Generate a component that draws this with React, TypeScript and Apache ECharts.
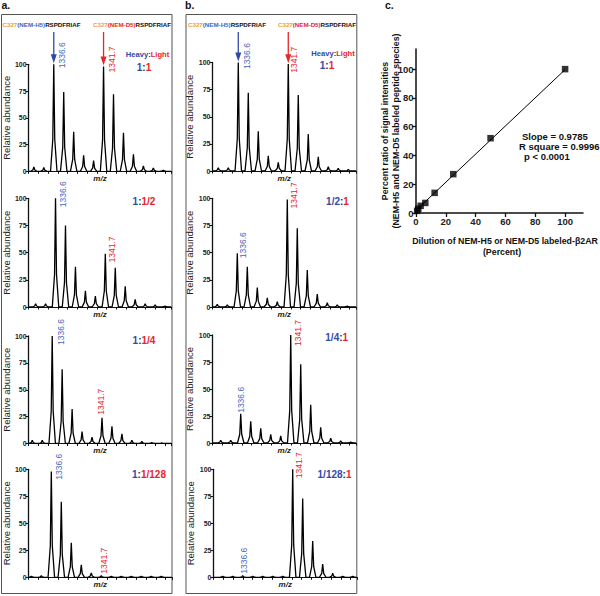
import React, { useEffect, useRef } from "react";
import * as echarts from "echarts";

// ---------------- data ----------------
const PEAK_MZ = [1334.56, 1335.58, 1336.6, 1337.62, 1338.64, 1339.66, 1340.68, 1341.7, 1342.72, 1343.74, 1344.76, 1345.78, 1346.8, 1347.82];
const HEAVY_MZ = 1336.6;
const LIGHT_MZ = 1341.7;
const HEAVY_LABEL = "1336.6";
const LIGHT_LABEL = "1341.7";

// relative abundance at each PEAK_MZ
const A_1_1 = [4, 3.5, 100, 74, 37, 15, 10, 98, 72, 36, 16, 5, 3, 1];
const A_1_2 = [3, 3, 100, 75, 37, 15, 10, 49, 36, 19, 7, 3, 2, 1];
const A_1_4 = [3, 3, 100, 69, 32, 11, 6, 24, 16, 9, 3, 2, 1, 0.5];
const A_1_128 = [1, 1.5, 98, 70, 32, 11.5, 4, 1.5, 1, 1, 1, 1, 1, 1];
const B_1_1 = [3, 3, 100, 72, 36.5, 14, 8, 98.5, 70, 34, 13, 4, 2.5, 1.5];
const B_2_1 = [2.5, 2, 49.5, 37, 18, 8.5, 5, 99, 72.5, 34, 12, 4, 2, 1];
const B_4_1 = [2.5, 2.5, 27, 20, 13.5, 8, 6.5, 100, 73, 35.5, 14.5, 4.5, 2, 1];
const B_128_1 = [1, 1, 1.5, 1, 1, 1, 1, 100, 73, 33.5, 12.3, 3.7, 1, 1];

const RATIO_HEAVY = ["1", "1", "1", "1", "1", "1/2", "1/4", "1/128"];
const RATIO_LIGHT = ["1", "1/2", "1/4", "1/128", "1", "1", "1", "1"];
const Y_TICKS = [0, 25, 50, 75, 100];

// panel c
const DILUTION = [100, 50, 25, 12.5, 6.25, 3.125, 1.5625, 0.78];
const SIGNAL_RATIO = [100, 52, 27, 14, 7, 5, 3, 1.5];
const SLOPE = 0.9785;
const R_SQUARE = 0.9996;
const P_TEXT = "p < 0.0001";
const C_TICKS = [0, 20, 40, 60, 80, 100];

const PANEL_VALUES = [A_1_1, A_1_2, A_1_4, A_1_128, B_1_1, B_2_1, B_4_1, B_128_1];

// ---------------- layout / style ----------------
const FONT = "'Liberation Sans', Arial, Helvetica, sans-serif";
const NARROW = "'Liberation Sans Narrow', 'Arial Narrow', 'Liberation Sans', Arial, sans-serif";
const BLUE = "#3249a6";
const LBLUE = "#4565bd";
const RED = "#e5262d";
const ORANGE = "#f39a3a";
const DARK = "#2a2a4a";
const SPAN = 14.64;
const PW = 143.5;

type Panel = {
  left: number; top: number; height: number; xMin: number;
  ratioPos: [number, number]; heavyOff: [number, number]; lightOff: [number, number];
};
const PANELS: Panel[] = [
  { left: 28, top: 64.3, height: 107, xMin: 1334.02, ratioPos: [144, 67.5], heavyOff: [8.5, 4], lightOff: [8.5, 6] },
  { left: 28, top: 198.3, height: 108.7, xMin: 1333.84, ratioPos: [144, 201.7], heavyOff: [7.5, 9], lightOff: [7, 8.7] },
  { left: 28, top: 336, height: 107.5, xMin: 1334.18, ratioPos: [144, 340], heavyOff: [8.3, 9], lightOff: [-1, -3] },
  { left: 28.5, top: 469.3, height: 108, xMin: 1334.28, ratioPos: [149, 474], heavyOff: [7.6, 8.3], lightOff: [3, -2] },
  { left: 212.5, top: 62.5, height: 108.5, xMin: 1333.97, ratioPos: [327, 65], heavyOff: [8.4, 6.6], lightOff: [5.6, 8.7] },
  { left: 212.5, top: 198.3, height: 108.7, xMin: 1334.07, ratioPos: [337.5, 201.7], heavyOff: [5.4, 5], lightOff: [6.7, 9] },
  { left: 212.5, top: 335, height: 108, xMin: 1333.72, ratioPos: [336.7, 337], heavyOff: [0, -1], lightOff: [7.4, 11] },
  { left: 213.5, top: 469.3, height: 108, xMin: 1333.62, ratioPos: [334.5, 474], heavyOff: [1, -2], lightOff: [6, 9] },
];

function profile(vals: number[], xMin: number) {
  const pts: number[][] = [[xMin, 0]];
  PEAK_MZ.forEach((m, i) => {
    pts.push([m - 0.33, 0], [m - 0.1, vals[i] * 0.3], [m, vals[i]], [m + 0.1, vals[i] * 0.3], [m + 0.33, 0]);
  });
  pts.push([xMin + SPAN, 0]);
  return pts;
}

function buildOption(): any {
  const grid: any[] = PANELS.map((p) => ({ left: p.left, top: p.top, width: PW, height: p.height }));
  grid.push({ left: 416, top: 49, width: 167, height: 164 });

  const xAxis: any[] = PANELS.map((p, i) => ({
    type: "value", gridIndex: i, min: p.xMin, max: p.xMin + SPAN, interval: 1,
    axisLine: { show: true, onZero: false, lineStyle: { color: "#111", width: 1.2 } },
    axisTick: { show: true, length: 2.5, lineStyle: { color: "#111", width: 1 } },
    axisLabel: { show: false }, splitLine: { show: false },
    name: "m/z", nameLocation: "middle", nameGap: 3,
    nameTextStyle: { fontFamily: FONT, fontSize: 8, fontStyle: "italic", fontWeight: "bold", color: "#222", verticalAlign: "top" },
  }));
  const yAxis: any[] = PANELS.map((p, i) => ({
    type: "value", gridIndex: i, min: Y_TICKS[0], max: Y_TICKS[Y_TICKS.length - 1], interval: 25,
    axisLine: { show: true, onZero: false, lineStyle: { color: "#111", width: 1.3 } },
    axisTick: { show: true, length: 3, lineStyle: { color: "#111", width: 1 } },
    axisLabel: { fontSize: 7, fontWeight: "bold", color: "#222", margin: 2, fontFamily: FONT },
    splitLine: { show: false },
    name: "Relative abundance", nameLocation: "middle", nameGap: 12,
    nameTextStyle: { fontSize: 9.5, color: "#222", fontFamily: FONT },
  }));
  xAxis.push({
    type: "value", gridIndex: 8, min: 0, max: 112,
    axisLine: { show: true, onZero: false, lineStyle: { color: "#111", width: 1.5 } },
    axisTick: { show: true, length: 4, customValues: C_TICKS, lineStyle: { color: "#111", width: 1.3 } },
    axisLabel: { customValues: C_TICKS, fontSize: 9.5, fontWeight: "bold", color: "#222", margin: 3, fontFamily: NARROW },
    splitLine: { show: false },
  });
  yAxis.push({
    type: "value", gridIndex: 8, min: 0, max: 114,
    axisLine: { show: true, onZero: false, lineStyle: { color: "#111", width: 1.5 } },
    axisTick: { show: true, length: 4, customValues: C_TICKS, lineStyle: { color: "#111", width: 1.3 } },
    axisLabel: { customValues: C_TICKS, fontSize: 9.5, fontWeight: "bold", color: "#222", margin: 2.5, fontFamily: NARROW },
    splitLine: { show: false },
  });

  const series: any[] = PANELS.map((p, i) => ({
    type: "line", xAxisIndex: i, yAxisIndex: i, data: profile(PANEL_VALUES[i], p.xMin),
    symbol: "none", silent: true, lineStyle: { color: "#000", width: 1.3 },
  }));
  const mx = DILUTION.reduce((a, b) => a + b, 0) / DILUTION.length;
  const my = SIGNAL_RATIO.reduce((a, b) => a + b, 0) / SIGNAL_RATIO.length;
  const intercept = my - SLOPE * mx;
  const x0 = Math.min(...DILUTION);
  const x1 = Math.max(...DILUTION);
  series.push({
    type: "line", xAxisIndex: 8, yAxisIndex: 8, symbol: "none", silent: true,
    data: [[x0, intercept + SLOPE * x0], [x1, intercept + SLOPE * x1]],
    lineStyle: { color: "#000", width: 1 },
  });
  series.push({
    type: "scatter", xAxisIndex: 8, yAxisIndex: 8, symbol: "rect", symbolSize: 6.5, silent: true,
    data: DILUTION.map((d, i) => [d, SIGNAL_RATIO[i]]), itemStyle: { color: "#000" },
  });

  return { animation: false, grid, xAxis, yAxis, series };
}

function txt(x: number, y: number, text: string, extra: any = {}, rot = 0): any {
  return {
    type: "text", x, y, rotation: rot, z: 100,
    style: { text, fontFamily: FONT, fill: "#111", align: "left", verticalAlign: "middle", ...extra },
  };
}

function buildGraphic(chart: any): any[] {
  const g: any[] = [];
  // frames
  g.push({ type: "rect", shape: { x: 1.5, y: 14.5, width: 170.5, height: 579 }, style: { fill: "none", stroke: "#555", lineWidth: 1 } });
  g.push({ type: "rect", shape: { x: 186, y: 14.5, width: 170.8, height: 579 }, style: { fill: "none", stroke: "#555", lineWidth: 1 } });
  // panel letters
  g.push(txt(1.5, 5, "a.", { fontSize: 10.5, fontWeight: "bold" }));
  g.push(txt(185, 5, "b.", { fontSize: 10.5, fontWeight: "bold" }));
  g.push(txt(385, 5, "c.", { fontSize: 10.5, fontWeight: "bold" }));
  // headers
  const HS = 6.2;
  const rich = {
    o: { fill: ORANGE, fontWeight: "bold", fontSize: HS, fontFamily: FONT },
    h: { fill: LBLUE, fontWeight: "bold", fontSize: HS, fontFamily: FONT },
    d: { fill: RED, fontWeight: "bold", fontSize: HS, fontFamily: FONT },
    k: { fill: "#111", fontWeight: "bold", fontSize: HS, fontFamily: FONT },
  };
  const head1 = "{o|C327}{h|(NEM-H5)}{k|RSPDFRIAF}";
  const head2 = "{o|C327}{d|(NEM-D5)}{k|RSPDFRIAF}";
  g.push(txt(2.5, 24, head1, { rich }));
  g.push(txt(171, 24, head2, { rich, align: "right" }));
  g.push(txt(188, 24, head1, { rich }));
  g.push(txt(356, 24, head2, { rich, align: "right" }));

  const richRatio = {
    h: { fill: BLUE, fontWeight: "bold", fontSize: 10, fontFamily: FONT },
    c: { fill: DARK, fontWeight: "bold", fontSize: 10, fontFamily: FONT },
    l: { fill: RED, fontWeight: "bold", fontSize: 10, fontFamily: FONT },
  };
  const richHL = {
    h: { fill: BLUE, fontWeight: "bold", fontSize: 7.6, fontFamily: FONT },
    c: { fill: DARK, fontWeight: "bold", fontSize: 7.6, fontFamily: FONT },
    l: { fill: RED, fontWeight: "bold", fontSize: 7.6, fontFamily: FONT },
  };
  g.push(txt(147.5, 54, "{h|Heavy}{c|:}{l|Light}", { rich: richHL, align: "center" }));
  g.push(txt(333, 53.3, "{h|Heavy}{c|:}{l|Light}", { rich: richHL, align: "center" }));

  PANELS.forEach((p, i) => {
    const vals = PANEL_VALUES[i];
    const hv = vals[PEAK_MZ.indexOf(HEAVY_MZ)];
    const lv = vals[PEAK_MZ.indexOf(LIGHT_MZ)];
    const hp = chart.convertToPixel({ gridIndex: i }, [HEAVY_MZ, hv]);
    const lp = chart.convertToPixel({ gridIndex: i }, [LIGHT_MZ, lv]);
    g.push(txt(hp[0] + p.heavyOff[0], hp[1] + p.heavyOff[1], HEAVY_LABEL, { fill: LBLUE, fontSize: 8.5 }, Math.PI / 2));
    g.push(txt(lp[0] + p.lightOff[0], lp[1] + p.lightOff[1], LIGHT_LABEL, { fill: RED, fontSize: 8.5 }, Math.PI / 2));
    g.push(txt(p.ratioPos[0], p.ratioPos[1], `{h|${RATIO_HEAVY[i]}}{c|:}{l|${RATIO_LIGHT[i]}}`, { rich: richRatio, align: "center" }));
    if (i === 0 || i === 4) {
      [[hp, BLUE], [lp, RED]].forEach(([pt, col]: any) => {
        const x = pt[0];
        const tip = pt[1] - 1;
        g.push({ type: "line", z: 100, shape: { x1: x, y1: 32, x2: x, y2: tip - 6 }, style: { stroke: col, lineWidth: 1.3 } });
        g.push({ type: "polygon", z: 100, shape: { points: [[x - 3, tip - 9], [x + 3, tip - 9], [x, tip]] }, style: { fill: col } });
      });
    }
  });

  // panel c texts
  const TS = 8.8;
  g.push(txt(384.5, 131, "Percent ratio of signal intensities", { fontSize: TS, fontWeight: "bold", align: "center" }, Math.PI / 2));
  g.push(txt(395.5, 131, "(NEM-H5 and NEM-D5 labeled peptide species)", { fontSize: TS, fontWeight: "bold", align: "center" }, Math.PI / 2));
  g.push(txt(505, 241, "Dilution of NEM-H5 or NEM-D5 labeled-\u03B22AR", { fontSize: TS, fontWeight: "bold", align: "center" }));
  g.push(txt(502, 251.5, "(Percent)", { fontSize: TS, fontWeight: "bold", align: "center" }));
  g.push(txt(522, 136, `Slope = ${SLOPE.toFixed(4)}`, { fontSize: 9.5, fontWeight: "bold" }));
  g.push(txt(519, 146, `R square = ${R_SQUARE.toFixed(4)}`, { fontSize: 9.5, fontWeight: "bold" }));
  g.push(txt(524, 156, P_TEXT, { fontSize: 9.5, fontWeight: "bold" }));
  return g;
}

export default function App() {
  const ref = useRef<HTMLDivElement>(null);
  useEffect(() => {
    document.body.style.margin = "0";
    const chart = echarts.init(ref.current as HTMLDivElement, null, { renderer: "svg" });
    chart.setOption(buildOption());
    chart.setOption({ graphic: buildGraphic(chart) });
    return () => chart.dispose();
  }, []);
  return <div ref={ref} style={{ width: 600, height: 596, position: "absolute", left: 0, top: 0, background: "#fff" }} />;
}
